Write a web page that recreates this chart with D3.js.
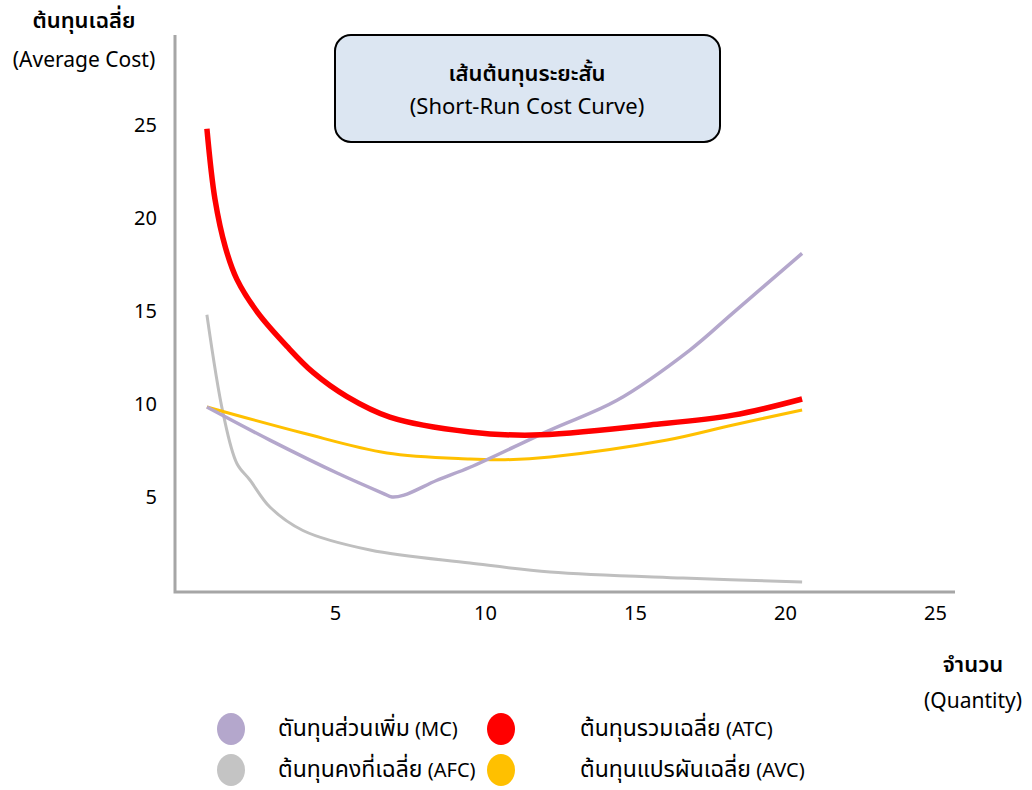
<!DOCTYPE html>
<html>
<head>
<meta charset="utf-8">
<script src="https://cdn.jsdelivr.net/npm/d3@7"></script>
<style>
  body { margin: 0; background: #fff; }
  svg text { font-family: "Noto Sans", "Noto Sans Thai", Tahoma, sans-serif; fill: #000; }
</style>
</head>
<body>
<svg width="1032" height="790"></svg>
<script>
// quantity / cost points
var mcQ  = [0.73, 2.83, 5.07, 6.6, 6.9, 7.3, 8.4, 9.5, 12.17, 14.4, 16.83, 18.27, 20.57];
var mcV  = [9.84, 8.06, 6.29, 5.2, 5.0, 5.1, 5.9, 6.6, 8.6, 10.2, 12.9, 14.9, 18.1];
var afcQ = [0.73, 1.27, 1.73, 2.17, 2.83, 3.93, 6.17, 9.5, 12.17, 16.6, 20.57];
var afcV = [14.8, 9.5, 6.8, 5.9, 4.46, 3.2, 2.15, 1.45, 0.97, 0.64, 0.43];
var atcQ = [0.73, 1.0, 1.35, 1.73, 2.43, 3.4, 4.27, 5.4, 6.83, 9.5, 11.6, 15.5, 18.27, 20.57];
var atcV = [24.8, 21.0, 18.4, 16.7, 14.9, 13.1, 11.7, 10.4, 9.3, 8.5, 8.33, 8.87, 9.4, 10.27];
var avcQ = [0.73, 3.93, 6.73, 9.5, 10.5, 12.17, 16.07, 18.27, 20.57];
var avcV = [9.84, 8.44, 7.37, 7.04, 7.0, 7.15, 8.06, 8.87, 9.68];

var xTicks = [5, 10, 15, 20, 25];
var yTicks = [5, 10, 15, 20, 25];

var legendThai = ["ตันทุนส่วนเพิ่ม", "ต้นทุนคงที่เฉลี่ย", "ต้นทุนรวมเฉลี่ย", "ต้นทุนแปรผันเฉลี่ย"];
var legendCodes = ["(MC)", "(AFC)", "(ATC)", "(AVC)"];

var svg = d3.select("svg");

var x = d3.scaleLinear().domain([0, 25]).range([185, 935]);
var y = d3.scaleLinear().domain([0, 25]).range([590, 125]);

// title box
svg.append("rect")
  .attr("x", 335).attr("y", 35).attr("width", 385).attr("height", 107)
  .attr("rx", 16).attr("ry", 16)
  .attr("fill", "#dce6f2").attr("stroke", "#000").attr("stroke-width", 2);
svg.append("text").attr("x", 527).attr("y", 81).attr("text-anchor", "middle")
  .style("font-size", "22px").style("font-weight", 600).text("เส้นต้นทุนระยะสั้น");
svg.append("text").attr("x", 527).attr("y", 114).attr("text-anchor", "middle")
  .style("font-size", "22px").text("(Short-Run Cost Curve)");

// axis titles
svg.append("text").attr("x", 84).attr("y", 28).attr("text-anchor", "middle")
  .style("font-size", "22px").style("font-weight", 600).text("ต้นทุนเฉลี่ย");
svg.append("text").attr("x", 84).attr("y", 67).attr("text-anchor", "middle")
  .style("font-size", "21px").text("(Average Cost)");
svg.append("text").attr("x", 973).attr("y", 672).attr("text-anchor", "middle")
  .style("font-size", "22px").style("font-weight", 600).text("จำนวน");
svg.append("text").attr("x", 973).attr("y", 708).attr("text-anchor", "middle")
  .style("font-size", "21px").text("(Quantity)");

// axes
var xAxis = svg.append("g").attr("transform", "translate(0,613)")
  .call(d3.axisBottom(x).tickValues(xTicks).tickSize(0).tickPadding(0));
xAxis.select(".domain").remove();
xAxis.selectAll("text").style("font-size", "20px").attr("dy", "0.35em");

var yAxis = svg.append("g").attr("transform", "translate(157,0)")
  .call(d3.axisLeft(y).tickValues(yTicks).tickSize(0).tickPadding(0));
yAxis.select(".domain").remove();
yAxis.selectAll("text").style("font-size", "20px");

svg.append("path")
  .attr("d", "M175,35 L175,592 L955,592")
  .attr("fill", "none").attr("stroke", "#a6a6a6").attr("stroke-width", 3);

// curves
var line = d3.line()
  .x(function(d) { return x(d[0]); })
  .y(function(d) { return y(d[1]); })
  .curve(d3.curveCatmullRom.alpha(0.5));

function pts(qs, vs) { return qs.map(function(q, i) { return [q, vs[i]]; }); }

var series = [
  { data: pts(afcQ, afcV), color: "#bfbfbf", w: 3 },
  { data: pts(avcQ, avcV), color: "#ffc000", w: 3 },
  { data: pts(mcQ, mcV), color: "#b4a7cc", w: 3.5 },
  { data: pts(atcQ, atcV), color: "#ff0000", w: 5.5 }
];

svg.append("g").selectAll("path")
  .data(series)
  .enter().append("path")
  .attr("d", function(d) { return line(d.data); })
  .attr("fill", "none")
  .attr("stroke", function(d) { return d.color; })
  .attr("stroke-width", function(d) { return d.w; })
  .attr("stroke-linecap", "butt");

// legend
var legend = [
  { i: 0, color: "#b4a7cc", cx: 231, cy: 729, tx: 278 },
  { i: 1, color: "#c4c4c4", cx: 231, cy: 770, tx: 278 },
  { i: 2, color: "#ff0000", cx: 501, cy: 729, tx: 580 },
  { i: 3, color: "#ffc000", cx: 501, cy: 770, tx: 580 }
];
var lg = svg.append("g").selectAll("g").data(legend).enter().append("g");
lg.append("ellipse")
  .attr("cx", function(d) { return d.cx; }).attr("cy", function(d) { return d.cy; })
  .attr("rx", 14).attr("ry", 16)
  .attr("fill", function(d) { return d.color; });
var lt = lg.append("text")
  .attr("x", function(d) { return d.tx; }).attr("y", function(d) { return d.cy + 7; });
lt.append("tspan").style("font-size", "23px").text(function(d) { return legendThai[d.i]; });
lt.append("tspan").style("font-size", "20px").text(function(d) { return " " + legendCodes[d.i]; });
</script>
</body>
</html>
